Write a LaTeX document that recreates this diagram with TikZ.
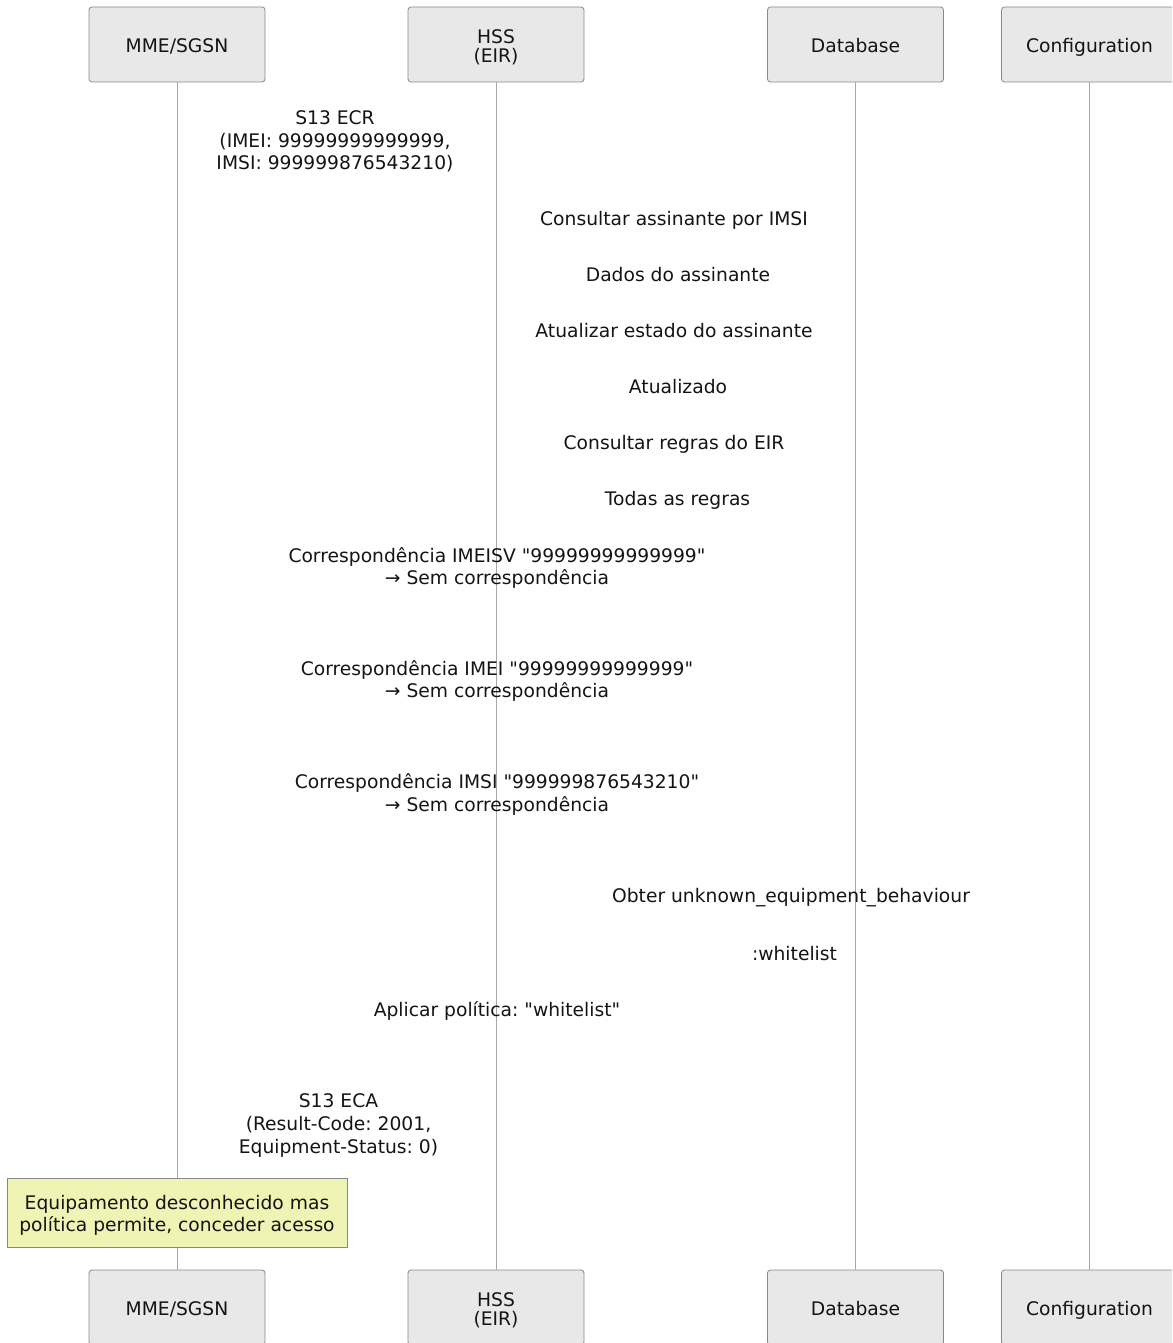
\documentclass[tikz,border=0pt]{standalone}
\usepackage{fontspec}
\setmainfont{DejaVu Sans}[Ligatures=TeXOff]
\frenchspacing
\definecolor{boxfill}{HTML}{E8E8E8}
\definecolor{boxline}{HTML}{888888}
\definecolor{lifeline}{HTML}{A8A8A8}
\definecolor{notefill}{HTML}{EFF3B4}
\definecolor{ink}{HTML}{141414}
\begin{document}
\begin{tikzpicture}[x=1pt,y=-1pt,
  every node/.style={inner sep=0pt, outer sep=0pt, text=ink,
    font=\fontsize{18.7}{22.6}\selectfont},
  actor/.style={draw=boxline, fill=boxfill, rounded corners=3pt,
    minimum width=176pt, minimum height=75pt, align=center,
    line width=0.8pt, font=\fontsize{18.7}{19}\selectfont},
  oneline/.style={text height=16.6pt, text depth=0pt},
  msg/.style={align=center},
  single/.style={text height=13.63pt, text depth=0pt},
  lifeline/.style={draw=lifeline, line width=1pt},
  note/.style={draw=boxline, fill=notefill, line width=0.8pt,
    minimum width=340pt, minimum height=69pt, align=center}]
\useasboundingbox (0,0) rectangle (1172,1343);
\clip (0,0) rectangle (1172,1343);

% participants, top row
\node[actor, oneline] (mmeT) at (177,44.5)    {MME/SGSN};
\node[actor]          (hssT) at (496,44.5)    {\rule{0pt}{19.6pt}HSS\\(EIR)};
\node[actor, oneline] (dbT)  at (855.5,44.5)  {Database};
\node[actor, oneline] (cfgT) at (1089.5,44.5) {Configuration};

% participants, bottom row
\node[actor, oneline] (mmeB) at (177,1307.5)    {MME/SGSN};
\node[actor]          (hssB) at (496,1307.5)    {\rule{0pt}{19.6pt}HSS\\(EIR)};
\node[actor, oneline] (dbB)  at (855.5,1307.5)  {Database};
\node[actor, oneline] (cfgB) at (1089.5,1307.5) {Configuration};

% lifelines
\draw[lifeline] (mmeT.south) -- (mmeB.north);
\draw[lifeline] (hssT.south) -- (hssB.north);
\draw[lifeline] (dbT.south)  -- (dbB.north);
\draw[lifeline] (cfgT.south) -- (cfgB.north);

% message labels
\node[msg] (ecr) at (335,141.5) {S13 ECR\\(IMEI: 99999999999999,\\IMSI: 999999876543210)};
\node[msg, single] (m1) at (674,218.5)   {Consultar assinante por IMSI};
\node[msg, single] (m2) at (678,274.5)   {Dados do assinante};
\node[msg, single] (m3) at (674,330.5)   {Atualizar estado do assinante};
\node[msg, single] (m4) at (678,386.5)   {Atualizado};
\node[msg, single] (m5) at (674,442.5)   {Consultar regras do EIR};
\node[msg, single] (m6) at (677.5,498.5) {Todas as regras};
\node[msg] (c1) at (497,568) {Correspondência IMEISV "99999999999999"\\→ Sem correspondência};
\node[msg] (c2) at (497,681) {Correspondência IMEI "99999999999999"\\→ Sem correspondência};
\node[msg] (c3) at (497,794.5) {Correspondência IMSI "999999876543210"\\→ Sem correspondência};
\node[msg, single] (g1) at (791,895.5)   {Obter unknown\_equipment\_behaviour};
\node[msg, single] (g2) at (794.5,953.5) {:whitelist};
\node[msg, single] (ap) at (497,1009.5)  {Aplicar política: "whitelist"};
\node[msg] (eca) at (338.5,1125.5) {S13 ECA\\(Result-Code: 2001,\\Equipment-Status: 0)};

% note over MME/SGSN
\node[note] (nt) at (177,1212.5) {\rule{0pt}{20.2pt}Equipamento desconhecido mas\\política permite, conceder acesso};
\end{tikzpicture}
\end{document}
